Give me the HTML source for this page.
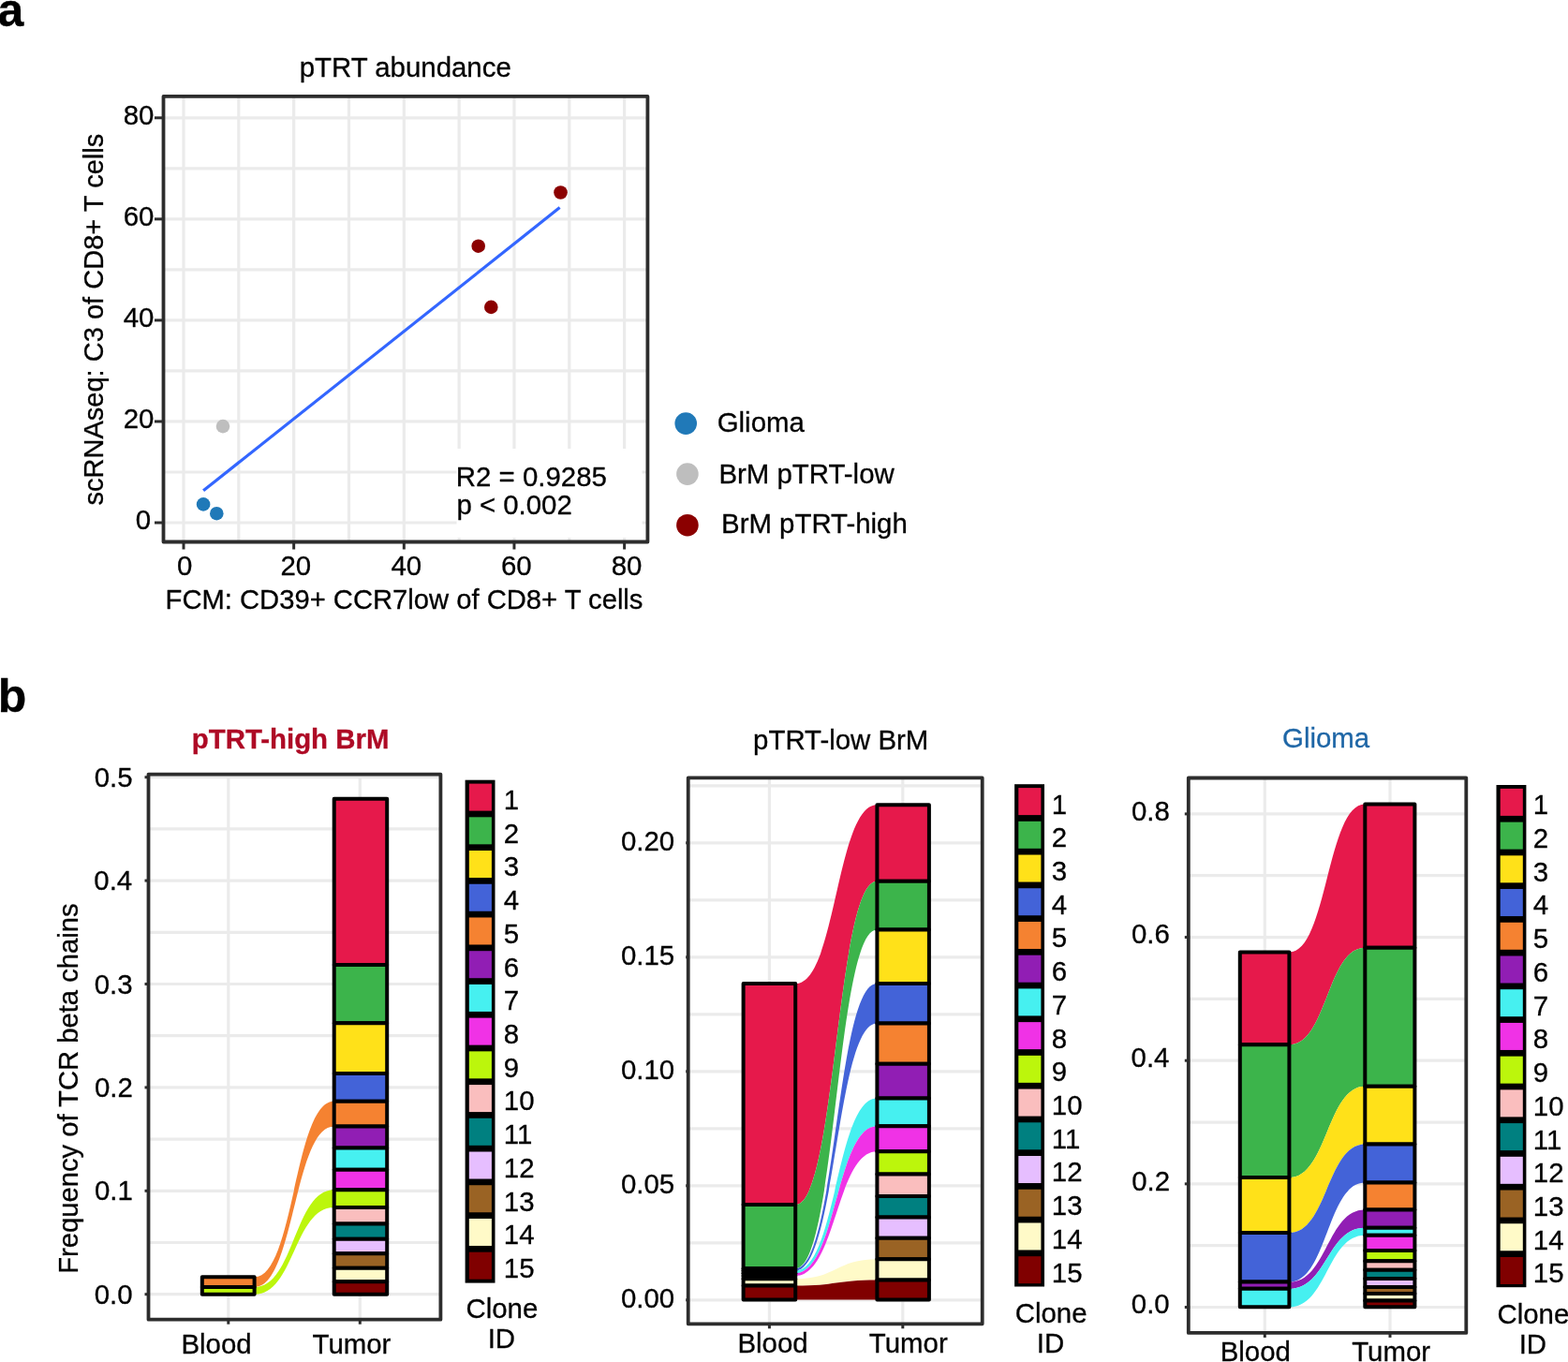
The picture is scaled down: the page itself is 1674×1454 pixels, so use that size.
<!DOCTYPE html>
<html><head><meta charset="utf-8"><title>pTRT abundance and TCR clone flows</title>
<style>
html,body{margin:0;padding:0;background:#fff;}
body{width:1674px;height:1454px;overflow:hidden;}
svg{display:block;}
text{font-family:"Liberation Sans", Arial, Helvetica, sans-serif;font-size:29.4px;fill:#000;stroke:#000;stroke-width:0.3px;}
</style></head><body>
<svg width="1674" height="1454" viewBox="0 0 1674 1454">
<rect width="1674" height="1454" fill="#fff"/>
<text x="-2.4" y="27.9" style="font-size:50px" font-weight="bold">a</text>
<line x1="174.50" y1="558.00" x2="691.40" y2="558.00" stroke="#EBEBEB" stroke-width="3.2"/>
<line x1="196.00" y1="102.90" x2="196.00" y2="578.50" stroke="#EBEBEB" stroke-width="3.2"/>
<line x1="174.50" y1="503.98" x2="691.40" y2="503.98" stroke="#EBEBEB" stroke-width="3.2"/>
<line x1="254.82" y1="102.90" x2="254.82" y2="578.50" stroke="#EBEBEB" stroke-width="3.2"/>
<line x1="174.50" y1="449.95" x2="691.40" y2="449.95" stroke="#EBEBEB" stroke-width="3.2"/>
<line x1="313.65" y1="102.90" x2="313.65" y2="578.50" stroke="#EBEBEB" stroke-width="3.2"/>
<line x1="174.50" y1="395.93" x2="691.40" y2="395.93" stroke="#EBEBEB" stroke-width="3.2"/>
<line x1="372.48" y1="102.90" x2="372.48" y2="578.50" stroke="#EBEBEB" stroke-width="3.2"/>
<line x1="174.50" y1="341.90" x2="691.40" y2="341.90" stroke="#EBEBEB" stroke-width="3.2"/>
<line x1="431.30" y1="102.90" x2="431.30" y2="578.50" stroke="#EBEBEB" stroke-width="3.2"/>
<line x1="174.50" y1="287.88" x2="691.40" y2="287.88" stroke="#EBEBEB" stroke-width="3.2"/>
<line x1="490.12" y1="102.90" x2="490.12" y2="578.50" stroke="#EBEBEB" stroke-width="3.2"/>
<line x1="174.50" y1="233.85" x2="691.40" y2="233.85" stroke="#EBEBEB" stroke-width="3.2"/>
<line x1="548.95" y1="102.90" x2="548.95" y2="578.50" stroke="#EBEBEB" stroke-width="3.2"/>
<line x1="174.50" y1="179.82" x2="691.40" y2="179.82" stroke="#EBEBEB" stroke-width="3.2"/>
<line x1="607.78" y1="102.90" x2="607.78" y2="578.50" stroke="#EBEBEB" stroke-width="3.2"/>
<line x1="174.50" y1="125.80" x2="691.40" y2="125.80" stroke="#EBEBEB" stroke-width="3.2"/>
<line x1="666.60" y1="102.90" x2="666.60" y2="578.50" stroke="#EBEBEB" stroke-width="3.2"/>
<rect x="487.50" y="479.00" width="198.00" height="95.00" fill="#fff"/>
<line x1="217.10" y1="523.80" x2="597.60" y2="221.60" stroke="#3366FF" stroke-width="3.2"/>
<circle cx="217.1" cy="538.4" r="7.3" fill="#2079B8"/>
<circle cx="231.3" cy="548.2" r="7.3" fill="#2079B8"/>
<circle cx="238" cy="455.1" r="7.3" fill="#BEBEBE"/>
<circle cx="598.5" cy="205.5" r="7.3" fill="#8B0000"/>
<circle cx="510.7" cy="262.7" r="7.3" fill="#8B0000"/>
<circle cx="524.3" cy="327.9" r="7.3" fill="#8B0000"/>
<rect x="174.5" y="102.9" width="516.90" height="475.60" fill="none" stroke="#2D2D2D" stroke-width="3.8" stroke-linejoin="round"/>
<line x1="165.00" y1="558.00" x2="174.50" y2="558.00" stroke="#2D2D2D" stroke-width="3"/>
<line x1="196.00" y1="578.50" x2="196.00" y2="586.50" stroke="#2D2D2D" stroke-width="3"/>
<text transform="translate(144.84,565.30) scale(1,1.026)">0</text>
<text transform="translate(189.00,614.00) scale(1,1.026)">0</text>
<line x1="165.00" y1="449.95" x2="174.50" y2="449.95" stroke="#2D2D2D" stroke-width="3"/>
<line x1="313.65" y1="578.50" x2="313.65" y2="586.50" stroke="#2D2D2D" stroke-width="3"/>
<text transform="translate(131.67,457.25) scale(1,1.026)">20</text>
<text transform="translate(299.50,614.00) scale(1,1.026)">20</text>
<line x1="165.00" y1="341.90" x2="174.50" y2="341.90" stroke="#2D2D2D" stroke-width="3"/>
<line x1="431.30" y1="578.50" x2="431.30" y2="586.50" stroke="#2D2D2D" stroke-width="3"/>
<text transform="translate(131.67,349.20) scale(1,1.026)">40</text>
<text transform="translate(417.40,614.00) scale(1,1.026)">40</text>
<line x1="165.00" y1="233.85" x2="174.50" y2="233.85" stroke="#2D2D2D" stroke-width="3"/>
<line x1="548.95" y1="578.50" x2="548.95" y2="586.50" stroke="#2D2D2D" stroke-width="3"/>
<text transform="translate(131.67,241.15) scale(1,1.026)">60</text>
<text transform="translate(535.00,614.00) scale(1,1.026)">60</text>
<line x1="165.00" y1="125.80" x2="174.50" y2="125.80" stroke="#2D2D2D" stroke-width="3"/>
<line x1="666.60" y1="578.50" x2="666.60" y2="586.50" stroke="#2D2D2D" stroke-width="3"/>
<text transform="translate(131.67,133.10) scale(1,1.026)">80</text>
<text transform="translate(652.71,614.00) scale(1,1.026)">80</text>
<text transform="translate(319.69,81.70)">pTRT abundance</text>
<text transform="translate(176.59,650.30)" style="font-size:29.2px">FCM: CD39+ CCR7low of CD8+ T cells</text>
<text transform="translate(110.00,539.60) rotate(-90)" style="font-size:29.05px">scRNAseq: C3 of CD8+ T cells</text>
<text transform="translate(486.87,518.80)">R2 = 0.9285</text>
<text transform="translate(487.39,548.90)">p &lt; 0.002</text>
<circle cx="732.2" cy="452.1" r="11.8" fill="#2079B8"/>
<text transform="translate(765.73,460.90)">Glioma</text>
<circle cx="733.9" cy="506.1" r="11.8" fill="#BEBEBE"/>
<text transform="translate(767.47,516.10)">BrM pTRT-low</text>
<circle cx="733.9" cy="560.7" r="11.8" fill="#8B0000"/>
<text transform="translate(770.07,569.30)">BrM pTRT-high</text>
<text x="-2.3" y="760" style="font-size:50px" font-weight="bold">b</text>
<line x1="158.50" y1="1381.70" x2="470.40" y2="1381.70" stroke="#EBEBEB" stroke-width="3.2"/>
<line x1="158.50" y1="1326.50" x2="470.40" y2="1326.50" stroke="#EBEBEB" stroke-width="3.2"/>
<line x1="158.50" y1="1271.30" x2="470.40" y2="1271.30" stroke="#EBEBEB" stroke-width="3.2"/>
<line x1="158.50" y1="1216.10" x2="470.40" y2="1216.10" stroke="#EBEBEB" stroke-width="3.2"/>
<line x1="158.50" y1="1160.90" x2="470.40" y2="1160.90" stroke="#EBEBEB" stroke-width="3.2"/>
<line x1="158.50" y1="1105.70" x2="470.40" y2="1105.70" stroke="#EBEBEB" stroke-width="3.2"/>
<line x1="158.50" y1="1050.50" x2="470.40" y2="1050.50" stroke="#EBEBEB" stroke-width="3.2"/>
<line x1="158.50" y1="995.30" x2="470.40" y2="995.30" stroke="#EBEBEB" stroke-width="3.2"/>
<line x1="158.50" y1="940.10" x2="470.40" y2="940.10" stroke="#EBEBEB" stroke-width="3.2"/>
<line x1="158.50" y1="884.90" x2="470.40" y2="884.90" stroke="#EBEBEB" stroke-width="3.2"/>
<line x1="158.50" y1="829.70" x2="470.40" y2="829.70" stroke="#EBEBEB" stroke-width="3.2"/>
<line x1="243.80" y1="826.60" x2="243.80" y2="1408.70" stroke="#EBEBEB" stroke-width="3.2"/>
<line x1="384.30" y1="826.60" x2="384.30" y2="1408.70" stroke="#EBEBEB" stroke-width="3.2"/>
<path d="M271.90,1363.30 C314.15,1363.30 314.15,1175.80 356.40,1175.80 L356.40,1202.40 C314.15,1202.40 314.15,1374.00 271.90,1374.00 Z" fill="#f58231"/>
<path d="M271.90,1374.00 C314.15,1374.00 314.15,1270.30 356.40,1270.30 L356.40,1288.90 C314.15,1288.90 314.15,1381.70 271.90,1381.70 Z" fill="#bcf60c"/>
<rect x="215.80" y="1363.30" width="55.80" height="10.70" fill="#f58231" stroke="#000" stroke-width="4.0" stroke-linejoin="round"/>
<rect x="215.80" y="1374.00" width="55.80" height="7.70" fill="#bcf60c" stroke="#000" stroke-width="4.0" stroke-linejoin="round"/>
<rect x="356.70" y="852.80" width="56.50" height="177.30" fill="#e6194b" stroke="#000" stroke-width="4.0" stroke-linejoin="round"/>
<rect x="356.70" y="1030.10" width="56.50" height="62.20" fill="#3cb44b" stroke="#000" stroke-width="4.0" stroke-linejoin="round"/>
<rect x="356.70" y="1092.30" width="56.50" height="53.70" fill="#ffe119" stroke="#000" stroke-width="4.0" stroke-linejoin="round"/>
<rect x="356.70" y="1146.00" width="56.50" height="29.80" fill="#4363d8" stroke="#000" stroke-width="4.0" stroke-linejoin="round"/>
<rect x="356.70" y="1175.80" width="56.50" height="26.60" fill="#f58231" stroke="#000" stroke-width="4.0" stroke-linejoin="round"/>
<rect x="356.70" y="1202.40" width="56.50" height="23.20" fill="#911eb4" stroke="#000" stroke-width="4.0" stroke-linejoin="round"/>
<rect x="356.70" y="1225.60" width="56.50" height="23.20" fill="#46f0f0" stroke="#000" stroke-width="4.0" stroke-linejoin="round"/>
<rect x="356.70" y="1248.80" width="56.50" height="21.50" fill="#f032e6" stroke="#000" stroke-width="4.0" stroke-linejoin="round"/>
<rect x="356.70" y="1270.30" width="56.50" height="18.60" fill="#bcf60c" stroke="#000" stroke-width="4.0" stroke-linejoin="round"/>
<rect x="356.70" y="1288.90" width="56.50" height="17.50" fill="#fabebe" stroke="#000" stroke-width="4.0" stroke-linejoin="round"/>
<rect x="356.70" y="1306.40" width="56.50" height="16.40" fill="#008080" stroke="#000" stroke-width="4.0" stroke-linejoin="round"/>
<rect x="356.70" y="1322.80" width="56.50" height="15.40" fill="#e6beff" stroke="#000" stroke-width="4.0" stroke-linejoin="round"/>
<rect x="356.70" y="1338.20" width="56.50" height="15.50" fill="#9a6324" stroke="#000" stroke-width="4.0" stroke-linejoin="round"/>
<rect x="356.70" y="1353.70" width="56.50" height="14.60" fill="#fffac8" stroke="#000" stroke-width="4.0" stroke-linejoin="round"/>
<rect x="356.70" y="1368.30" width="56.50" height="13.40" fill="#800000" stroke="#000" stroke-width="4.0" stroke-linejoin="round"/>
<rect x="158.5" y="826.6" width="311.90" height="582.10" fill="none" stroke="#2D2D2D" stroke-width="3.8" stroke-linejoin="round"/>
<line x1="154.50" y1="1381.70" x2="158.50" y2="1381.70" stroke="#2D2D2D" stroke-width="3"/>
<text transform="translate(100.64,1391.80) scale(1,1.026)">0.0</text>
<line x1="154.50" y1="1271.30" x2="158.50" y2="1271.30" stroke="#2D2D2D" stroke-width="3"/>
<text transform="translate(100.93,1281.40) scale(1,1.026)">0.1</text>
<line x1="154.50" y1="1160.90" x2="158.50" y2="1160.90" stroke="#2D2D2D" stroke-width="3"/>
<text transform="translate(101.00,1171.00) scale(1,1.026)">0.2</text>
<line x1="154.50" y1="1050.50" x2="158.50" y2="1050.50" stroke="#2D2D2D" stroke-width="3"/>
<text transform="translate(100.78,1060.60) scale(1,1.026)">0.3</text>
<line x1="154.50" y1="940.10" x2="158.50" y2="940.10" stroke="#2D2D2D" stroke-width="3"/>
<text transform="translate(100.34,950.20) scale(1,1.026)">0.4</text>
<line x1="154.50" y1="829.70" x2="158.50" y2="829.70" stroke="#2D2D2D" stroke-width="3"/>
<text transform="translate(100.71,839.80) scale(1,1.026)">0.5</text>
<line x1="243.80" y1="1408.70" x2="243.80" y2="1413.70" stroke="#2D2D2D" stroke-width="3"/>
<line x1="384.30" y1="1408.70" x2="384.30" y2="1413.70" stroke="#2D2D2D" stroke-width="3"/>
<text transform="translate(193.41,1444.50)">Blood</text>
<text transform="translate(333.56,1444.50)">Tumor</text>
<text transform="translate(204.79,799.00)" style="fill:#AE0A25;stroke:#AE0A25" font-weight="bold">pTRT-high BrM</text>
<text transform="translate(83.05,1359.81) rotate(-90)" style="font-size:29.2px">Frequency of TCR beta chains</text>
<rect x="496.60" y="832.70" width="31.90" height="536.90" fill="#000"/>
<rect x="500.80" y="836.60" width="24.10" height="29.00" fill="#e6194b"/>
<text transform="translate(537.80,864.00) scale(1,1.026)">1</text>
<rect x="500.80" y="872.32" width="24.10" height="29.00" fill="#3cb44b"/>
<text transform="translate(537.80,899.72) scale(1,1.026)">2</text>
<rect x="500.80" y="908.04" width="24.10" height="29.00" fill="#ffe119"/>
<text transform="translate(537.80,935.44) scale(1,1.026)">3</text>
<rect x="500.80" y="943.76" width="24.10" height="29.00" fill="#4363d8"/>
<text transform="translate(537.80,971.16) scale(1,1.026)">4</text>
<rect x="500.80" y="979.48" width="24.10" height="29.00" fill="#f58231"/>
<text transform="translate(537.80,1006.88) scale(1,1.026)">5</text>
<rect x="500.80" y="1015.20" width="24.10" height="29.00" fill="#911eb4"/>
<text transform="translate(537.80,1042.60) scale(1,1.026)">6</text>
<rect x="500.80" y="1050.92" width="24.10" height="29.00" fill="#46f0f0"/>
<text transform="translate(537.80,1078.32) scale(1,1.026)">7</text>
<rect x="500.80" y="1086.64" width="24.10" height="29.00" fill="#f032e6"/>
<text transform="translate(537.80,1114.04) scale(1,1.026)">8</text>
<rect x="500.80" y="1122.36" width="24.10" height="29.00" fill="#bcf60c"/>
<text transform="translate(537.80,1149.76) scale(1,1.026)">9</text>
<rect x="500.80" y="1158.08" width="24.10" height="29.00" fill="#fabebe"/>
<text transform="translate(537.80,1185.48) scale(1,1.026)">10</text>
<rect x="500.80" y="1193.80" width="24.10" height="29.00" fill="#008080"/>
<text transform="translate(537.80,1221.20) scale(1,1.026)">11</text>
<rect x="500.80" y="1229.52" width="24.10" height="29.00" fill="#e6beff"/>
<text transform="translate(537.80,1256.92) scale(1,1.026)">12</text>
<rect x="500.80" y="1265.24" width="24.10" height="29.00" fill="#9a6324"/>
<text transform="translate(537.80,1292.64) scale(1,1.026)">13</text>
<rect x="500.80" y="1300.96" width="24.10" height="29.00" fill="#fffac8"/>
<text transform="translate(537.80,1328.36) scale(1,1.026)">14</text>
<rect x="500.80" y="1336.68" width="24.10" height="29.00" fill="#800000"/>
<text transform="translate(537.80,1364.08) scale(1,1.026)">15</text>
<text transform="translate(497.49,1407.20)">Clone</text>
<text transform="translate(520.64,1438.90)">ID</text>
<line x1="734.70" y1="1387.80" x2="1048.70" y2="1387.80" stroke="#EBEBEB" stroke-width="3.2"/>
<line x1="734.70" y1="1326.80" x2="1048.70" y2="1326.80" stroke="#EBEBEB" stroke-width="3.2"/>
<line x1="734.70" y1="1265.80" x2="1048.70" y2="1265.80" stroke="#EBEBEB" stroke-width="3.2"/>
<line x1="734.70" y1="1204.80" x2="1048.70" y2="1204.80" stroke="#EBEBEB" stroke-width="3.2"/>
<line x1="734.70" y1="1143.80" x2="1048.70" y2="1143.80" stroke="#EBEBEB" stroke-width="3.2"/>
<line x1="734.70" y1="1082.80" x2="1048.70" y2="1082.80" stroke="#EBEBEB" stroke-width="3.2"/>
<line x1="734.70" y1="1021.80" x2="1048.70" y2="1021.80" stroke="#EBEBEB" stroke-width="3.2"/>
<line x1="734.70" y1="960.80" x2="1048.70" y2="960.80" stroke="#EBEBEB" stroke-width="3.2"/>
<line x1="734.70" y1="899.80" x2="1048.70" y2="899.80" stroke="#EBEBEB" stroke-width="3.2"/>
<line x1="734.70" y1="838.80" x2="1048.70" y2="838.80" stroke="#EBEBEB" stroke-width="3.2"/>
<line x1="821.40" y1="830.40" x2="821.40" y2="1413.30" stroke="#EBEBEB" stroke-width="3.2"/>
<line x1="963.80" y1="830.40" x2="963.80" y2="1413.30" stroke="#EBEBEB" stroke-width="3.2"/>
<path d="M849.40,1050.10 C892.80,1050.10 892.80,859.30 936.20,859.30 L936.20,940.80 C892.80,940.80 892.80,1286.00 849.40,1286.00 Z" fill="#e6194b"/>
<path d="M849.40,1286.00 C892.80,1286.00 892.80,940.80 936.20,940.80 L936.20,992.60 C892.80,992.60 892.80,1354.20 849.40,1354.20 Z" fill="#3cb44b"/>
<path d="M849.40,1354.20 C892.80,1354.20 892.80,1049.90 936.20,1049.90 L936.20,1092.60 C892.80,1092.60 892.80,1356.40 849.40,1356.40 Z" fill="#4363d8"/>
<path d="M849.40,1356.40 C892.80,1356.40 892.80,1172.50 936.20,1172.50 L936.20,1202.20 C892.80,1202.20 892.80,1359.20 849.40,1359.20 Z" fill="#46f0f0"/>
<path d="M849.40,1359.20 C892.80,1359.20 892.80,1202.20 936.20,1202.20 L936.20,1229.30 C892.80,1229.30 892.80,1362.00 849.40,1362.00 Z" fill="#f032e6"/>
<path d="M849.40,1365.20 C892.80,1365.20 892.80,1344.20 936.20,1344.20 L936.20,1366.50 C892.80,1366.50 892.80,1372.60 849.40,1372.60 Z" fill="#fffac8"/>
<path d="M849.40,1372.60 C892.80,1372.60 892.80,1366.50 936.20,1366.50 L936.20,1387.50 C892.80,1387.50 892.80,1387.50 849.40,1387.50 Z" fill="#800000"/>
<rect x="793.60" y="1050.10" width="55.60" height="235.90" fill="#e6194b" stroke="#000" stroke-width="4.0" stroke-linejoin="round"/>
<rect x="793.60" y="1286.00" width="55.60" height="68.20" fill="#3cb44b" stroke="#000" stroke-width="4.0" stroke-linejoin="round"/>
<rect x="793.60" y="1354.20" width="55.60" height="2.20" fill="#4363d8" stroke="#000" stroke-width="4.0" stroke-linejoin="round"/>
<rect x="793.60" y="1356.40" width="55.60" height="2.80" fill="#46f0f0" stroke="#000" stroke-width="4.0" stroke-linejoin="round"/>
<rect x="793.60" y="1359.20" width="55.60" height="2.80" fill="#f032e6" stroke="#000" stroke-width="4.0" stroke-linejoin="round"/>
<rect x="793.60" y="1362.00" width="55.60" height="3.20" fill="#000" stroke="#000" stroke-width="4.0" stroke-linejoin="round"/>
<rect x="793.60" y="1365.20" width="55.60" height="7.40" fill="#fffac8" stroke="#000" stroke-width="4.0" stroke-linejoin="round"/>
<rect x="793.60" y="1372.60" width="55.60" height="14.90" fill="#800000" stroke="#000" stroke-width="4.0" stroke-linejoin="round"/>
<rect x="936.40" y="859.30" width="55.50" height="81.50" fill="#e6194b" stroke="#000" stroke-width="4.0" stroke-linejoin="round"/>
<rect x="936.40" y="940.80" width="55.50" height="51.80" fill="#3cb44b" stroke="#000" stroke-width="4.0" stroke-linejoin="round"/>
<rect x="936.40" y="992.60" width="55.50" height="57.30" fill="#ffe119" stroke="#000" stroke-width="4.0" stroke-linejoin="round"/>
<rect x="936.40" y="1049.90" width="55.50" height="42.70" fill="#4363d8" stroke="#000" stroke-width="4.0" stroke-linejoin="round"/>
<rect x="936.40" y="1092.60" width="55.50" height="43.10" fill="#f58231" stroke="#000" stroke-width="4.0" stroke-linejoin="round"/>
<rect x="936.40" y="1135.70" width="55.50" height="36.80" fill="#911eb4" stroke="#000" stroke-width="4.0" stroke-linejoin="round"/>
<rect x="936.40" y="1172.50" width="55.50" height="29.70" fill="#46f0f0" stroke="#000" stroke-width="4.0" stroke-linejoin="round"/>
<rect x="936.40" y="1202.20" width="55.50" height="27.10" fill="#f032e6" stroke="#000" stroke-width="4.0" stroke-linejoin="round"/>
<rect x="936.40" y="1229.30" width="55.50" height="24.20" fill="#bcf60c" stroke="#000" stroke-width="4.0" stroke-linejoin="round"/>
<rect x="936.40" y="1253.50" width="55.50" height="23.60" fill="#fabebe" stroke="#000" stroke-width="4.0" stroke-linejoin="round"/>
<rect x="936.40" y="1277.10" width="55.50" height="22.40" fill="#008080" stroke="#000" stroke-width="4.0" stroke-linejoin="round"/>
<rect x="936.40" y="1299.50" width="55.50" height="22.30" fill="#e6beff" stroke="#000" stroke-width="4.0" stroke-linejoin="round"/>
<rect x="936.40" y="1321.80" width="55.50" height="22.40" fill="#9a6324" stroke="#000" stroke-width="4.0" stroke-linejoin="round"/>
<rect x="936.40" y="1344.20" width="55.50" height="22.30" fill="#fffac8" stroke="#000" stroke-width="4.0" stroke-linejoin="round"/>
<rect x="936.40" y="1366.50" width="55.50" height="21.00" fill="#800000" stroke="#000" stroke-width="4.0" stroke-linejoin="round"/>
<rect x="734.7" y="830.4" width="314.00" height="582.90" fill="none" stroke="#2D2D2D" stroke-width="3.8" stroke-linejoin="round"/>
<line x1="732.20" y1="1387.80" x2="734.70" y2="1387.80" stroke="#2D2D2D" stroke-width="3"/>
<text transform="translate(662.92,1396.40) scale(1,1.026)">0.00</text>
<line x1="732.20" y1="1265.80" x2="734.70" y2="1265.80" stroke="#2D2D2D" stroke-width="3"/>
<text transform="translate(662.99,1274.40) scale(1,1.026)">0.05</text>
<line x1="732.20" y1="1143.80" x2="734.70" y2="1143.80" stroke="#2D2D2D" stroke-width="3"/>
<text transform="translate(662.92,1152.40) scale(1,1.026)">0.10</text>
<line x1="732.20" y1="1021.80" x2="734.70" y2="1021.80" stroke="#2D2D2D" stroke-width="3"/>
<text transform="translate(662.99,1030.40) scale(1,1.026)">0.15</text>
<line x1="732.20" y1="899.80" x2="734.70" y2="899.80" stroke="#2D2D2D" stroke-width="3"/>
<text transform="translate(662.92,908.40) scale(1,1.026)">0.20</text>
<line x1="821.40" y1="1413.30" x2="821.40" y2="1418.30" stroke="#2D2D2D" stroke-width="3"/>
<line x1="963.80" y1="1413.30" x2="963.80" y2="1418.30" stroke="#2D2D2D" stroke-width="3"/>
<text transform="translate(787.41,1444.00)">Blood</text>
<text transform="translate(927.86,1444.00)">Tumor</text>
<text transform="translate(804.09,800.40)">pTRT-low BrM</text>
<rect x="1083.10" y="837.20" width="31.90" height="536.30" fill="#000"/>
<rect x="1087.30" y="841.10" width="24.10" height="29.00" fill="#e6194b"/>
<text transform="translate(1122.80,868.50) scale(1,1.026)">1</text>
<rect x="1087.30" y="876.82" width="24.10" height="29.00" fill="#3cb44b"/>
<text transform="translate(1122.80,904.22) scale(1,1.026)">2</text>
<rect x="1087.30" y="912.54" width="24.10" height="29.00" fill="#ffe119"/>
<text transform="translate(1122.80,939.94) scale(1,1.026)">3</text>
<rect x="1087.30" y="948.26" width="24.10" height="29.00" fill="#4363d8"/>
<text transform="translate(1122.80,975.66) scale(1,1.026)">4</text>
<rect x="1087.30" y="983.98" width="24.10" height="29.00" fill="#f58231"/>
<text transform="translate(1122.80,1011.38) scale(1,1.026)">5</text>
<rect x="1087.30" y="1019.70" width="24.10" height="29.00" fill="#911eb4"/>
<text transform="translate(1122.80,1047.10) scale(1,1.026)">6</text>
<rect x="1087.30" y="1055.42" width="24.10" height="29.00" fill="#46f0f0"/>
<text transform="translate(1122.80,1082.82) scale(1,1.026)">7</text>
<rect x="1087.30" y="1091.14" width="24.10" height="29.00" fill="#f032e6"/>
<text transform="translate(1122.80,1118.54) scale(1,1.026)">8</text>
<rect x="1087.30" y="1126.86" width="24.10" height="29.00" fill="#bcf60c"/>
<text transform="translate(1122.80,1154.26) scale(1,1.026)">9</text>
<rect x="1087.30" y="1162.58" width="24.10" height="29.00" fill="#fabebe"/>
<text transform="translate(1122.80,1189.98) scale(1,1.026)">10</text>
<rect x="1087.30" y="1198.30" width="24.10" height="29.00" fill="#008080"/>
<text transform="translate(1122.80,1225.70) scale(1,1.026)">11</text>
<rect x="1087.30" y="1234.02" width="24.10" height="29.00" fill="#e6beff"/>
<text transform="translate(1122.80,1261.42) scale(1,1.026)">12</text>
<rect x="1087.30" y="1269.74" width="24.10" height="29.00" fill="#9a6324"/>
<text transform="translate(1122.80,1297.14) scale(1,1.026)">13</text>
<rect x="1087.30" y="1305.46" width="24.10" height="29.00" fill="#fffac8"/>
<text transform="translate(1122.80,1332.86) scale(1,1.026)">14</text>
<rect x="1087.30" y="1341.18" width="24.10" height="29.00" fill="#800000"/>
<text transform="translate(1122.80,1368.58) scale(1,1.026)">15</text>
<text transform="translate(1083.69,1412.10)">Clone</text>
<text transform="translate(1106.84,1443.80)">ID</text>
<line x1="1268.80" y1="1395.50" x2="1565.30" y2="1395.50" stroke="#EBEBEB" stroke-width="3.2"/>
<line x1="1268.80" y1="1329.67" x2="1565.30" y2="1329.67" stroke="#EBEBEB" stroke-width="3.2"/>
<line x1="1268.80" y1="1263.85" x2="1565.30" y2="1263.85" stroke="#EBEBEB" stroke-width="3.2"/>
<line x1="1268.80" y1="1198.03" x2="1565.30" y2="1198.03" stroke="#EBEBEB" stroke-width="3.2"/>
<line x1="1268.80" y1="1132.20" x2="1565.30" y2="1132.20" stroke="#EBEBEB" stroke-width="3.2"/>
<line x1="1268.80" y1="1066.38" x2="1565.30" y2="1066.38" stroke="#EBEBEB" stroke-width="3.2"/>
<line x1="1268.80" y1="1000.55" x2="1565.30" y2="1000.55" stroke="#EBEBEB" stroke-width="3.2"/>
<line x1="1268.80" y1="934.72" x2="1565.30" y2="934.72" stroke="#EBEBEB" stroke-width="3.2"/>
<line x1="1268.80" y1="868.90" x2="1565.30" y2="868.90" stroke="#EBEBEB" stroke-width="3.2"/>
<line x1="1350.30" y1="830.50" x2="1350.30" y2="1422.90" stroke="#EBEBEB" stroke-width="3.2"/>
<line x1="1484.00" y1="830.50" x2="1484.00" y2="1422.90" stroke="#EBEBEB" stroke-width="3.2"/>
<path d="M1376.60,1016.40 C1416.85,1016.40 1416.85,858.40 1457.10,858.40 L1457.10,1011.80 C1416.85,1011.80 1416.85,1115.20 1376.60,1115.20 Z" fill="#e6194b"/>
<path d="M1376.60,1115.20 C1416.85,1115.20 1416.85,1011.80 1457.10,1011.80 L1457.10,1159.70 C1416.85,1159.70 1416.85,1257.00 1376.60,1257.00 Z" fill="#3cb44b"/>
<path d="M1376.60,1257.00 C1416.85,1257.00 1416.85,1159.70 1457.10,1159.70 L1457.10,1221.50 C1416.85,1221.50 1416.85,1316.10 1376.60,1316.10 Z" fill="#ffe119"/>
<path d="M1376.60,1316.10 C1416.85,1316.10 1416.85,1221.50 1457.10,1221.50 L1457.10,1262.60 C1416.85,1262.60 1416.85,1368.60 1376.60,1368.60 Z" fill="#4363d8"/>
<path d="M1376.60,1368.60 C1416.85,1368.60 1416.85,1291.40 1457.10,1291.40 L1457.10,1310.70 C1416.85,1310.70 1416.85,1375.80 1376.60,1375.80 Z" fill="#911eb4"/>
<path d="M1376.60,1375.80 C1416.85,1375.80 1416.85,1310.70 1457.10,1310.70 L1457.10,1318.70 C1416.85,1318.70 1416.85,1395.30 1376.60,1395.30 Z" fill="#46f0f0"/>
<rect x="1323.80" y="1016.40" width="52.60" height="98.80" fill="#e6194b" stroke="#000" stroke-width="4.0" stroke-linejoin="round"/>
<rect x="1323.80" y="1115.20" width="52.60" height="141.80" fill="#3cb44b" stroke="#000" stroke-width="4.0" stroke-linejoin="round"/>
<rect x="1323.80" y="1257.00" width="52.60" height="59.10" fill="#ffe119" stroke="#000" stroke-width="4.0" stroke-linejoin="round"/>
<rect x="1323.80" y="1316.10" width="52.60" height="52.50" fill="#4363d8" stroke="#000" stroke-width="4.0" stroke-linejoin="round"/>
<rect x="1323.80" y="1368.60" width="52.60" height="7.20" fill="#911eb4" stroke="#000" stroke-width="4.0" stroke-linejoin="round"/>
<rect x="1323.80" y="1375.80" width="52.60" height="19.50" fill="#46f0f0" stroke="#000" stroke-width="4.0" stroke-linejoin="round"/>
<rect x="1457.30" y="858.40" width="53.10" height="153.40" fill="#e6194b" stroke="#000" stroke-width="4.0" stroke-linejoin="round"/>
<rect x="1457.30" y="1011.80" width="53.10" height="147.90" fill="#3cb44b" stroke="#000" stroke-width="4.0" stroke-linejoin="round"/>
<rect x="1457.30" y="1159.70" width="53.10" height="61.80" fill="#ffe119" stroke="#000" stroke-width="4.0" stroke-linejoin="round"/>
<rect x="1457.30" y="1221.50" width="53.10" height="41.10" fill="#4363d8" stroke="#000" stroke-width="4.0" stroke-linejoin="round"/>
<rect x="1457.30" y="1262.60" width="53.10" height="28.80" fill="#f58231" stroke="#000" stroke-width="4.0" stroke-linejoin="round"/>
<rect x="1457.30" y="1291.40" width="53.10" height="19.30" fill="#911eb4" stroke="#000" stroke-width="4.0" stroke-linejoin="round"/>
<rect x="1457.30" y="1310.70" width="53.10" height="8.00" fill="#46f0f0" stroke="#000" stroke-width="4.0" stroke-linejoin="round"/>
<rect x="1457.30" y="1318.70" width="53.10" height="16.40" fill="#f032e6" stroke="#000" stroke-width="4.0" stroke-linejoin="round"/>
<rect x="1457.30" y="1335.10" width="53.10" height="11.10" fill="#bcf60c" stroke="#000" stroke-width="4.0" stroke-linejoin="round"/>
<rect x="1457.30" y="1346.20" width="53.10" height="9.50" fill="#fabebe" stroke="#000" stroke-width="4.0" stroke-linejoin="round"/>
<rect x="1457.30" y="1355.70" width="53.10" height="9.30" fill="#008080" stroke="#000" stroke-width="4.0" stroke-linejoin="round"/>
<rect x="1457.30" y="1365.00" width="53.10" height="9.00" fill="#e6beff" stroke="#000" stroke-width="4.0" stroke-linejoin="round"/>
<rect x="1457.30" y="1374.00" width="53.10" height="7.00" fill="#9a6324" stroke="#000" stroke-width="4.0" stroke-linejoin="round"/>
<rect x="1457.30" y="1381.00" width="53.10" height="7.60" fill="#fffac8" stroke="#000" stroke-width="4.0" stroke-linejoin="round"/>
<rect x="1457.30" y="1388.60" width="53.10" height="6.70" fill="#800000" stroke="#000" stroke-width="4.0" stroke-linejoin="round"/>
<rect x="1268.8" y="830.5" width="296.50" height="592.40" fill="none" stroke="#2D2D2D" stroke-width="3.8" stroke-linejoin="round"/>
<line x1="1264.80" y1="1395.50" x2="1268.80" y2="1395.50" stroke="#2D2D2D" stroke-width="3"/>
<text transform="translate(1207.84,1402.20) scale(1,1.026)">0.0</text>
<line x1="1264.80" y1="1263.85" x2="1268.80" y2="1263.85" stroke="#2D2D2D" stroke-width="3"/>
<text transform="translate(1208.20,1270.55) scale(1,1.026)">0.2</text>
<line x1="1264.80" y1="1132.20" x2="1268.80" y2="1132.20" stroke="#2D2D2D" stroke-width="3"/>
<text transform="translate(1207.54,1138.90) scale(1,1.026)">0.4</text>
<line x1="1264.80" y1="1000.55" x2="1268.80" y2="1000.55" stroke="#2D2D2D" stroke-width="3"/>
<text transform="translate(1207.98,1007.25) scale(1,1.026)">0.6</text>
<line x1="1264.80" y1="868.90" x2="1268.80" y2="868.90" stroke="#2D2D2D" stroke-width="3"/>
<text transform="translate(1207.98,875.60) scale(1,1.026)">0.8</text>
<line x1="1350.30" y1="1422.90" x2="1350.30" y2="1427.90" stroke="#2D2D2D" stroke-width="3"/>
<line x1="1484.00" y1="1422.90" x2="1484.00" y2="1427.90" stroke="#2D2D2D" stroke-width="3"/>
<text transform="translate(1302.71,1453.00)">Blood</text>
<text transform="translate(1443.26,1453.00)">Tumor</text>
<text transform="translate(1369.03,797.90)" style="fill:#1E66A6;stroke:#1E66A6">Glioma</text>
<rect x="1597.50" y="838.00" width="31.90" height="536.20" fill="#000"/>
<rect x="1601.70" y="841.90" width="24.10" height="29.00" fill="#e6194b"/>
<text transform="translate(1636.80,869.30) scale(1,1.026)">1</text>
<rect x="1601.70" y="877.62" width="24.10" height="29.00" fill="#3cb44b"/>
<text transform="translate(1636.80,905.02) scale(1,1.026)">2</text>
<rect x="1601.70" y="913.34" width="24.10" height="29.00" fill="#ffe119"/>
<text transform="translate(1636.80,940.74) scale(1,1.026)">3</text>
<rect x="1601.70" y="949.06" width="24.10" height="29.00" fill="#4363d8"/>
<text transform="translate(1636.80,976.46) scale(1,1.026)">4</text>
<rect x="1601.70" y="984.78" width="24.10" height="29.00" fill="#f58231"/>
<text transform="translate(1636.80,1012.18) scale(1,1.026)">5</text>
<rect x="1601.70" y="1020.50" width="24.10" height="29.00" fill="#911eb4"/>
<text transform="translate(1636.80,1047.90) scale(1,1.026)">6</text>
<rect x="1601.70" y="1056.22" width="24.10" height="29.00" fill="#46f0f0"/>
<text transform="translate(1636.80,1083.62) scale(1,1.026)">7</text>
<rect x="1601.70" y="1091.94" width="24.10" height="29.00" fill="#f032e6"/>
<text transform="translate(1636.80,1119.34) scale(1,1.026)">8</text>
<rect x="1601.70" y="1127.66" width="24.10" height="29.00" fill="#bcf60c"/>
<text transform="translate(1636.80,1155.06) scale(1,1.026)">9</text>
<rect x="1601.70" y="1163.38" width="24.10" height="29.00" fill="#fabebe"/>
<text transform="translate(1636.80,1190.78) scale(1,1.026)">10</text>
<rect x="1601.70" y="1199.10" width="24.10" height="29.00" fill="#008080"/>
<text transform="translate(1636.80,1226.50) scale(1,1.026)">11</text>
<rect x="1601.70" y="1234.82" width="24.10" height="29.00" fill="#e6beff"/>
<text transform="translate(1636.80,1262.22) scale(1,1.026)">12</text>
<rect x="1601.70" y="1270.54" width="24.10" height="29.00" fill="#9a6324"/>
<text transform="translate(1636.80,1297.94) scale(1,1.026)">13</text>
<rect x="1601.70" y="1306.26" width="24.10" height="29.00" fill="#fffac8"/>
<text transform="translate(1636.80,1333.66) scale(1,1.026)">14</text>
<rect x="1601.70" y="1341.98" width="24.10" height="29.00" fill="#800000"/>
<text transform="translate(1636.80,1369.38) scale(1,1.026)">15</text>
<text transform="translate(1598.49,1412.80)">Clone</text>
<text transform="translate(1621.64,1444.50)">ID</text>
</svg>
</body></html>
